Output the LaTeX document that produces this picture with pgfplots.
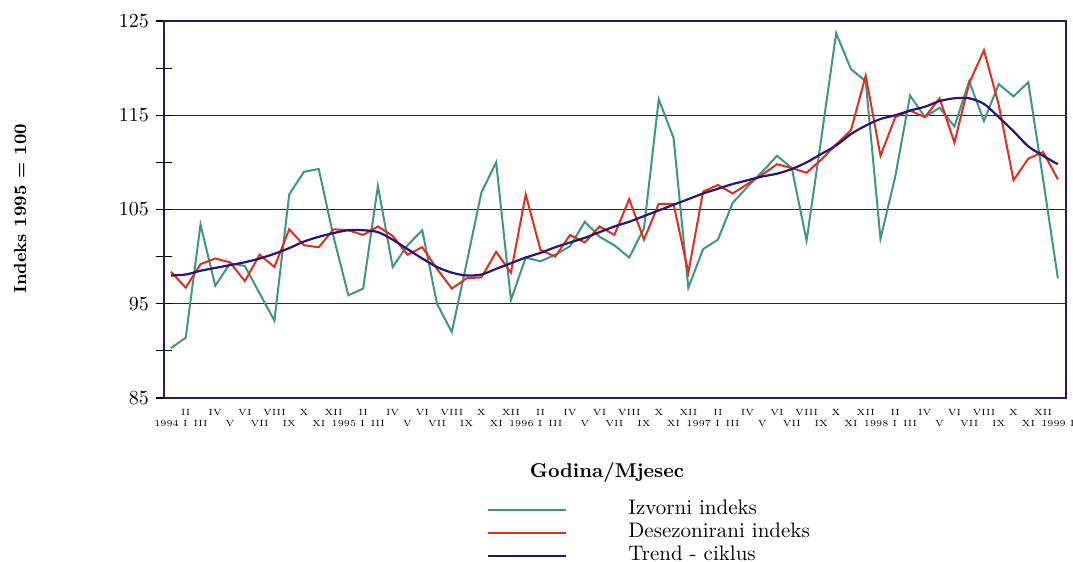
\documentclass[border=0pt]{standalone}
\usepackage{fontspec}
\usepackage{pgfplots}
\pgfplotsset{compat=1.18}
\definecolor{cgreen}{RGB}{61,150,130}
\definecolor{cred}{RGB}{226,45,30}
\definecolor{cblue}{RGB}{40,20,120}
\definecolor{cframe}{RGB}{45,25,95}
\pgfplotstableread{
i izv des trend
0 90.3 98.4 98.0
1 91.4 96.7 98.1
2 103.4 99.2 98.5
3 96.9 99.8 98.8
4 99.3 99.4 99.1
5 99.0 97.4 99.4
6 96.1 100.2 99.8
7 93.2 98.9 100.3
8 106.6 102.9 100.9
9 109.0 101.2 101.6
10 109.3 101.0 102.1
11 102.1 102.9 102.5
12 95.9 102.8 102.8
13 96.6 102.3 102.8
14 107.5 103.2 102.6
15 98.9 102.2 101.8
16 101.2 100.2 100.8
17 102.8 101.0 99.8
18 95.0 98.7 98.9
19 92.0 96.6 98.3
20 99.3 97.7 98.0
21 106.8 97.8 98.1
22 110.0 100.5 98.7
23 95.4 98.3 99.3
24 99.9 106.6 99.9
25 99.5 100.7 100.4
26 100.2 100.0 101.0
27 101.1 102.3 101.5
28 103.7 101.5 102.0
29 102.1 103.2 102.6
30 101.2 102.3 103.2
31 99.9 106.1 103.7
32 103.0 101.8 104.3
33 116.7 105.6 104.9
34 112.6 105.6 105.5
35 96.7 98.3 106.1
36 100.8 106.9 106.7
37 101.8 107.6 107.2
38 105.7 106.7 107.7
39 107.4 107.7 108.1
40 109.0 108.7 108.5
41 110.7 109.8 108.8
42 109.4 109.4 109.3
43 101.7 108.9 110.0
44 112.6 110.3 110.9
45 123.7 111.9 111.8
46 119.9 113.4 113.0
47 118.6 119.2 113.9
48 101.9 110.7 114.6
49 108.5 114.8 115.0
50 117.1 115.5 115.5
51 114.8 114.8 115.9
52 115.8 116.8 116.5
53 113.8 112.1 116.8
54 118.6 118.4 116.8
55 114.4 121.9 116.2
56 118.3 116.1 114.8
57 117.0 108.1 113.3
58 118.5 110.4 111.7
59 108.2 111.1 110.7
60 97.7 108.2 109.8
}\datatable
\begin{document}
\begin{tikzpicture}
\useasboundingbox (0,0) rectangle (536.5pt,-281pt);
\begin{axis}[
  at={(82pt,-10.5pt)}, anchor=north west,
  scale only axis, width=451pt, height=188.5pt,
  xmin=-0.47, xmax=60.55, ymin=85, ymax=125,
  ytick={85,95,...,125}, minor ytick={90,100,...,120},
  ymajorgrids, grid style={black!85, line width=0.6pt},
  ytick pos=left, tick align=center,
  major tick length=8pt, minor tick length=8pt,
  every tick/.style={black, line width=0.6pt},
  axis line style={cframe, line width=1.3pt},
  yticklabel style={font=\fontsize{10}{12}\selectfont},
  xtick={0,2,...,60},
  xticklabels={1994 I,III,V,VII,IX,XI,1995 I,III,V,VII,IX,XI,1996 I,III,V,VII,IX,XI,1997 I,III,V,VII,IX,XI,1998 I,III,V,VII,IX,XI,1999 I},
  xticklabel style={font=\fontsize{4.5}{5}\selectfont, anchor=base, yshift=-10.5pt},
  x tick style={draw=none},
  extra x ticks={1,3,...,59},
  extra x tick labels={II,IV,VI,VIII,X,XII,II,IV,VI,VIII,X,XII,II,IV,VI,VIII,X,XII,II,IV,VI,VIII,X,XII,II,IV,VI,VIII,X,XII},
  extra x tick style={xticklabel style={yshift=5.5pt}, x tick style={draw=none}},
  legend style={at={(axis description cs:0.358,-0.265)}, anchor=north west, draw=none, fill=none,
    font=\fontsize{10.5}{12}\selectfont, inner sep=0pt, row sep=0pt,
    nodes={inner sep=1pt, text height=7pt, text depth=2.5pt}},
  legend cell align=left,
  legend image code/.code={\draw[#1] (0pt,0pt) -- (39pt,0pt); \path[draw=none] (0pt,0pt) -- (69pt,0pt);},
]
\addplot[cgreen, line width=1pt] table[x=i, y=izv] {\datatable};
\addlegendentry{Izvorni indeks}
\addplot[cred, line width=1pt] table[x=i, y=des] {\datatable};
\addlegendentry{Desezonirani indeks}
\addplot[cblue, line width=1.1pt, smooth] table[x=i, y=trend] {\datatable};
\addlegendentry{Trend - ciklus}
\end{axis}
\node[rotate=90, font=\fontsize{8.8}{10}\selectfont\bfseries] at (10pt,-104.5pt) {Indeks 1995 = 100};
\node[font=\fontsize{10}{12}\selectfont\bfseries] at (303.5pt,-236pt) {Godina/Mjesec};
\end{tikzpicture}
\end{document}
